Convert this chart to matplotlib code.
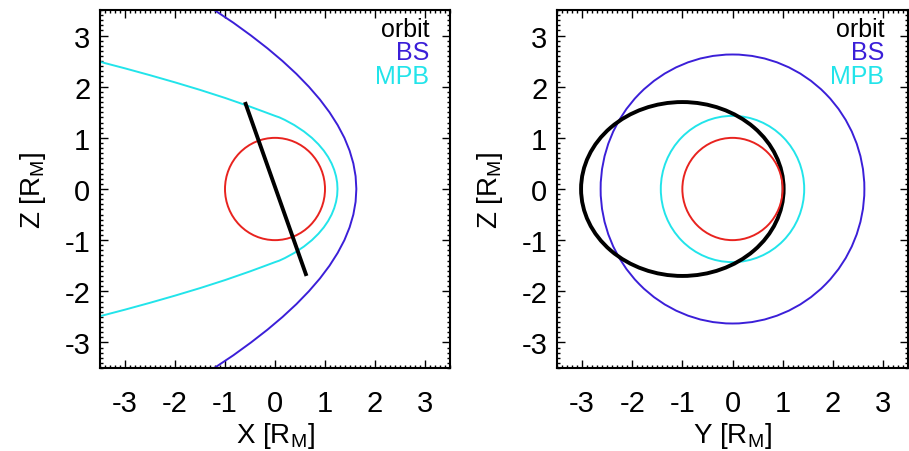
import numpy as np
import matplotlib
matplotlib.use("Agg")
import matplotlib.pyplot as plt
from matplotlib.patches import Circle, Ellipse
from matplotlib.ticker import MultipleLocator

# ---------------- data ----------------
# Bow shock, upper half in X-Z plane (x, |z|) from tail to nose
bs_x = [-1.373, -1.214, -0.831, -0.479, -0.150, 0.153, 0.429, 0.677,
        0.898, 1.090, 1.253, 1.388, 1.492, 1.567, 1.612, 1.627]
bs_z = [3.60, 3.50, 3.25, 3.00, 2.75, 2.50, 2.25, 2.00,
        1.75, 1.50, 1.25, 1.00, 0.75, 0.50, 0.25, 0.00]
# Magnetic pileup boundary, upper half (x, |z|) from tail to nose
mpb_x = [-3.60, -3.50, -3.00, -2.50, -2.00, -1.50, -1.00, -0.50, -0.25,
         0.00, 0.088, 0.198, 0.386, 0.579, 0.738, 0.868, 0.976, 1.063,
         1.132, 1.184, 1.221, 1.243, 1.250]
mpb_z = [2.512, 2.487, 2.359, 2.225, 2.085, 1.938, 1.781, 1.611, 1.521,
         1.430, 1.400, 1.350, 1.250, 1.125, 1.000, 0.875, 0.750, 0.625,
         0.500, 0.375, 0.250, 0.125, 0.000]
# orbit segment in X-Z
orbit_x = [-0.60, 0.63]
orbit_z = [1.70, -1.70]
# Y-Z plane: terminator radii and orbit ellipse
planet_r = 1.0
bs_term_r = 2.63
mpb_term_r = 1.43
orbit_yc, orbit_zc = -1.0, 0.0
orbit_ya, orbit_zb = 2.02, 1.70

ticks = [-3, -2, -1, 0, 1, 2, 3]
labels_legend = ["orbit", "BS", "MPB"]

# ---------------- style ----------------
C_BS = "#3b1fd8"
C_MPB = "#22e4ea"
C_RED = "#e8231f"
plt.rcParams["font.family"] = ["Liberation Sans", "DejaVu Sans"]
plt.rcParams["mathtext.fontset"] = "custom"
plt.rcParams["mathtext.rm"] = "Liberation Sans"
plt.rcParams["mathtext.it"] = "Liberation Sans"
plt.rcParams["axes.unicode_minus"] = False

fig = plt.figure(figsize=(9.09, 4.52), dpi=100)
ax1 = fig.add_axes([100/909, 83/452, 350/909, 358/452])
ax2 = fig.add_axes([557/909, 83/452, 351/909, 358/452])


def full(xs, zs):
    xs = np.asarray(xs); zs = np.asarray(zs)
    return (np.concatenate([xs, xs[::-1][1:]]),
            np.concatenate([zs, -zs[::-1][1:]]))


def style(ax, xl, legend_x):
    ax.set_xlim(-3.5, 3.5)
    ax.set_ylim(-3.5, 3.5)
    ax.set_xticks(ticks)
    ax.set_yticks(ticks)
    ax.xaxis.set_minor_locator(MultipleLocator(0.1))
    ax.yaxis.set_minor_locator(MultipleLocator(0.1))
    ax.tick_params(which="both", direction="in", top=True, right=True,
                   labelsize=21, width=1.0)
    ax.tick_params(which="major", length=6)
    ax.tick_params(which="minor", length=2.5)
    ax.tick_params(axis="x", which="major", pad=15)
    ax.tick_params(axis="y", which="major", pad=7)
    for s in ax.spines.values():
        s.set_linewidth(1.5)
    ax.set_xlabel(xl + r" [R$_\mathrm{M}$]", fontsize=20, labelpad=2)
    ax.set_ylabel(r"Z [R$_\mathrm{M}$]", fontsize=20, labelpad=12)
    cols = ["black", C_BS, C_MPB]
    ys = [0.928, 0.862, 0.796]
    for t, c, y in zip(labels_legend, cols, ys):
        ax.text(legend_x, y, t, color=c, fontsize=18, ha="right",
                va="baseline", transform=ax.transAxes)


# left panel: X-Z
bx, bz = full(bs_x, bs_z)
mx, mz = full(mpb_x, mpb_z)
ax1.plot(bx, bz, color=C_BS, lw=1.4)
ax1.plot(mx, mz, color=C_MPB, lw=1.4)
ax1.add_patch(Circle((0, 0), planet_r, fill=False, ec=C_RED, lw=1.4))
ax1.plot(orbit_x, orbit_z, color="black", lw=2.8, solid_capstyle="butt")
style(ax1, "X", 0.940)

# right panel: Y-Z
ax2.add_patch(Circle((0, 0), bs_term_r, fill=False, ec=C_BS, lw=1.4))
ax2.add_patch(Circle((0, 0), mpb_term_r, fill=False, ec=C_MPB, lw=1.4))
ax2.add_patch(Ellipse((orbit_yc, orbit_zc), 2*orbit_ya, 2*orbit_zb,
                      fill=False, ec="black", lw=2.8))
ax2.add_patch(Circle((0, 0), planet_r, fill=False, ec=C_RED, lw=1.4))
style(ax2, "Y", 0.932)

fig.savefig("out.png", dpi=100)
